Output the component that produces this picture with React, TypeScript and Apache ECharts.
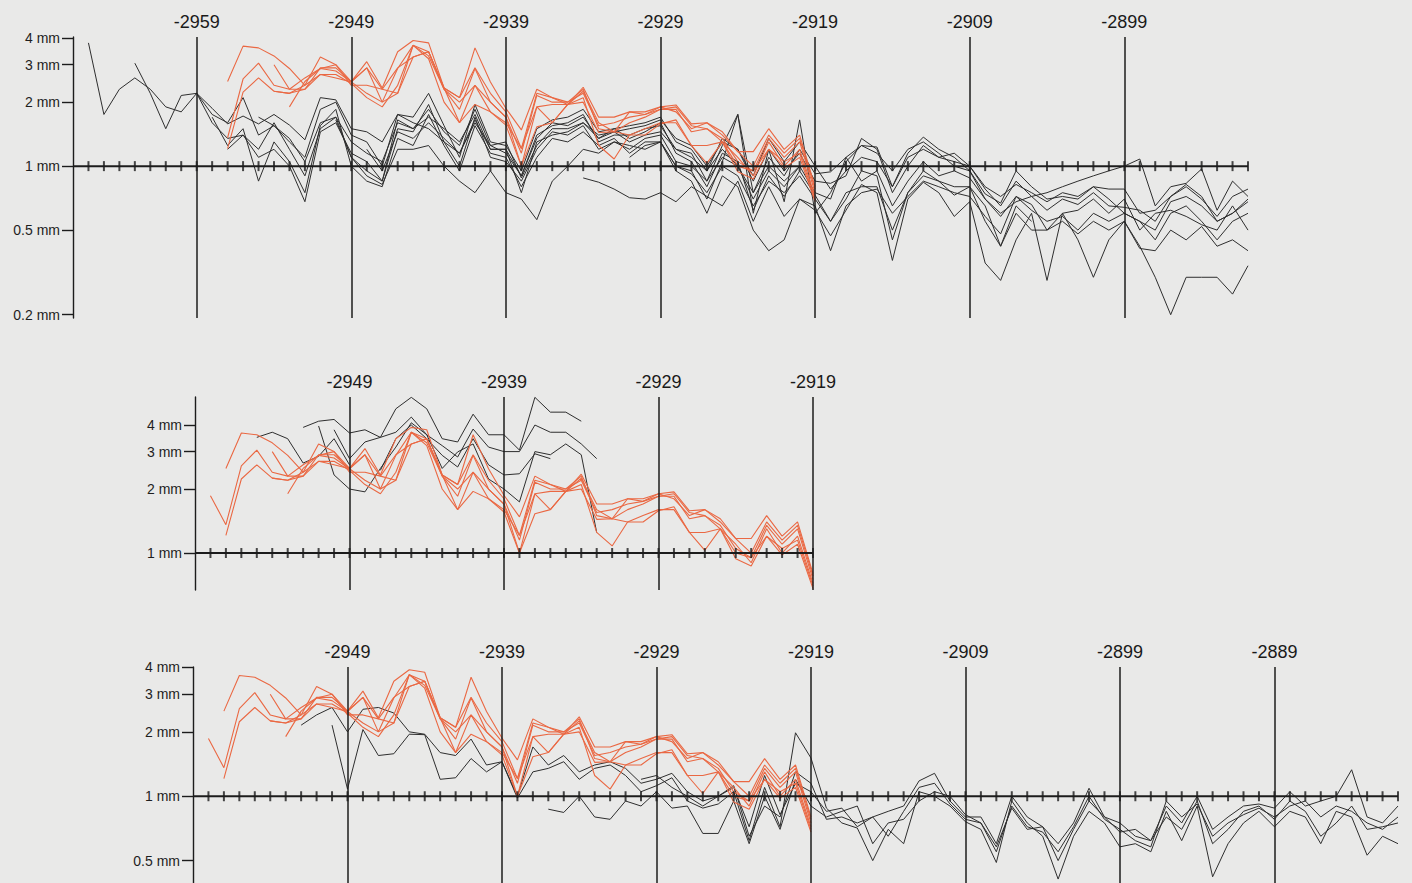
import React, { useEffect, useRef } from "react";
import * as echarts from "echarts";

// ---------- tick labels ----------
const P1_DECADES = [-2959, -2949, -2939, -2929, -2919, -2909, -2899];
const P2_DECADES = [-2949, -2939, -2929, -2919];
const P3_DECADES = [-2949, -2939, -2929, -2919, -2909, -2899, -2889];
const P1_MM_TICKS = [4, 3, 2, 1, 0.5, 0.2];
const P2_MM_TICKS = [4, 3, 2, 1];
const P3_MM_TICKS = [4, 3, 2, 1, 0.5];

// ---------- red series (ring width, mm), shared by the three panels ----------
const RED_STARTS = [-2957, -2958, -2957, -2954, -2954, -2953];
const RED_1 = [
  2.5, 3.67, 3.6, 3.3, 2.88, 2.4, 3.26, 3.0,
  2.5, 3.1, 2.33, 3.45, 3.9, 3.8, 2.33, 2.1, 3.6, 2.49,
  1.87, 1.48, 2.3, 2.1, 1.95, 2.35, 1.7, 1.7, 1.8, 1.8,
  1.9, 1.94, 1.58, 1.6, 1.45, 1.17, 1.17, 1.5, 1.2, 1.4, 0.8,
];
const RED_2 = [
  1.86, 1.36, 2.57, 3.05, 2.4, 2.3, 2.6, 2.88, 2.8,
  2.49, 2.9, 2.0, 2.88, 3.7, 3.45, 2.3, 1.85, 2.88, 2.0,
  1.7, 1.15, 2.15, 2.0, 2.0, 2.2, 1.55, 1.6, 1.7, 1.75,
  1.85, 1.85, 1.45, 1.5, 1.35, 1.05, 0.95, 1.35, 1.1, 1.3, 0.75,
];
const RED_3 = [
  1.21, 2.23, 2.6, 2.25, 2.2, 2.3, 2.7, 2.7,
  2.45, 2.1, 1.9, 2.4, 3.7, 3.2, 2.0, 1.6, 2.4, 1.8,
  1.56, 1.0, 1.9, 1.95, 1.95, 2.1, 1.25, 1.08, 1.4, 1.4,
  1.58, 1.65, 1.25, 1.03, 1.3, 0.94, 0.87, 1.2, 0.98, 1.1, 0.68,
];
const RED_4 = [
  3.0, 2.3, 2.3, 2.9, 2.9,
  2.5, 2.9, 2.3, 2.9, 3.26, 3.45, 2.33, 2.1, 2.9, 2.2,
  1.8, 1.21, 2.2, 2.1, 2.0, 2.3, 1.5, 1.45, 1.8, 1.75,
  1.9, 1.8, 1.5, 1.6, 1.4, 1.17, 1.0, 1.4, 1.15, 1.35, 0.78,
];
const RED_5 = [
  2.25, 2.2, 2.4, 2.7, 2.6,
  2.49, 2.2, 2.0, 2.2, 3.7, 3.3, 2.3, 2.0, 2.4, 2.0,
  1.7, 1.0, 1.53, 1.6, 1.95, 2.25, 1.6, 1.45, 1.6, 1.7,
  1.85, 1.9, 1.55, 1.5, 1.3, 1.1, 0.9, 1.3, 1.0, 1.2, 0.72,
];
const RED_6 = [
  1.9, 2.5, 2.88, 3.0,
  2.4, 2.4, 2.3, 2.2, 3.26, 3.45, 2.33, 1.6, 1.95, 1.8,
  1.6, 1.21, 1.9, 1.6, 1.95, 2.0, 1.44, 1.45, 1.4, 1.5,
  1.6, 1.6, 1.25, 1.25, 1.3, 1.0, 0.95, 1.2, 1.05, 1.15, 0.7,
];
const RED_SERIES = [RED_1, RED_2, RED_3, RED_4, RED_5, RED_6];

// ---------- panel 1 black series ----------
const P1_BLACK_STARTS = [-2966, -2963, -2959, -2958, -2957, -2955, -2950, -2934, -2931, -2948];
const P1_B1 = [
  3.8, 1.75, 2.3, 2.6, 2.3, 1.9, 1.8,
  2.2, 1.87, 1.58, 1.72, 1.58, 1.75, 1.56, 1.33, 2.1, 2.05,
  1.5, 1.45, 1.3, 1.75, 1.6, 1.5, 1.3, 1.15, 1.65, 1.2,
  1.2, 0.9, 1.35, 1.6, 1.55, 1.7, 1.35, 1.45, 1.3, 1.4,
  1.45, 1.2, 1.1, 0.95, 1.2, 1.0, 0.75, 1.0, 0.85, 1.0,
];
const P1_B2 = [
  3.05, 2.2, 1.5, 2.15,
  2.2, 1.75, 1.6, 2.1, 1.4, 1.55, 1.3, 1.1, 1.85, 2.0,
  1.4, 1.3, 1.0, 1.75, 1.7, 2.2, 1.55, 1.1, 1.95, 1.3,
  1.25, 0.95, 1.5, 1.65, 1.7, 1.85, 1.45, 1.5, 1.55, 1.6,
  1.7, 1.3, 1.2, 0.95, 1.35, 1.2, 0.85, 1.2, 0.95, 1.15,
  0.85, 0.83, 0.9, 1.35, 1.2, 0.75, 1.0, 1.25, 1.1, 1.05,
  1.0, 0.78, 0.65, 0.85, 0.72, 0.62, 0.7, 0.66, 0.75, 0.65,
  0.64, 0.62, 0.55, 0.72, 0.8, 0.7, 0.58, 0.72, 0.78,
];
const P1_B3 = [
  2.2, 1.6, 1.35, 1.4, 1.2, 1.6, 1.2, 0.9, 1.5, 1.7,
  1.1, 0.95, 0.85, 1.5, 1.45, 1.95, 1.3, 1.0, 1.7, 1.1,
  1.05, 0.85, 1.2, 1.45, 1.4, 1.55, 1.2, 1.3, 1.2, 1.35,
  1.4, 1.05, 1.0, 0.85, 1.1, 1.0, 0.7, 0.95, 0.8, 1.0,
  0.75, 0.7, 1.1, 0.85, 0.95, 0.65, 0.85, 1.05, 0.9, 0.95,
  0.88, 0.7, 0.58, 0.72, 0.62, 0.55, 0.58, 0.5, 0.6, 0.55,
  0.6, 0.55, 0.45, 0.6, 0.65, 0.55, 0.45, 0.55, 0.6,
];
const P1_B4 = [
  1.7, 1.25, 1.5, 0.85, 1.3, 1.05, 0.75, 1.55, 1.85,
  1.0, 0.85, 0.8, 1.35, 1.25, 1.75, 1.25, 0.95, 1.55, 1.15,
  1.1, 0.8, 1.1, 1.35, 1.3, 1.45, 1.25, 1.35, 1.15, 1.3,
  1.3, 1.0, 0.92, 0.75, 1.0, 0.9, 0.65, 0.85, 0.75, 0.9,
  0.7, 0.55, 0.75, 0.8, 0.8, 0.5, 0.75, 0.95, 0.85, 0.8,
  0.8, 0.65, 0.42, 0.65, 0.55,
];
const P1_B5 = [
  1.2, 1.4, 1.1, 1.2, 1.0, 0.68, 1.45, 1.6,
  1.15, 1.05, 0.85, 1.65, 1.5, 1.85, 1.45, 1.25, 1.85, 1.25,
  1.15, 0.9, 1.4, 1.55, 1.6, 1.75, 1.3, 1.4, 1.4, 1.5,
  1.55, 1.2, 1.15, 0.85, 1.25, 1.75, 0.75, 1.1, 0.9, 1.2,
  0.92, 0.94, 1.1, 1.25, 1.23, 0.8, 1.15, 1.37, 1.2, 1.1,
  0.95, 0.74, 0.67, 0.95, 0.8, 0.7, 0.72, 0.7, 0.8, 0.7,
  0.6, 0.55, 0.5, 0.68, 0.72, 0.65, 0.55, 0.6, 0.7,
];
const P1_B6 = [
  1.7, 1.55, 1.35, 1.05, 1.6, 1.7,
  1.3, 1.15, 1.05, 1.6, 1.5, 1.7, 1.5, 1.3, 1.75, 1.2,
  1.2, 0.75, 1.3, 1.4, 1.45, 1.6, 1.35, 1.5, 1.35, 1.45,
  1.6, 1.15, 1.05, 0.8, 1.15, 1.05, 0.62, 0.9, 0.72, 0.95,
  0.73, 0.55, 0.7, 0.95, 0.9, 0.45, 0.75, 0.9, 0.85, 0.73,
  0.8, 0.55, 0.42, 0.6, 0.5, 0.5, 0.55, 0.48, 0.55, 0.5,
  0.55, 0.41, 0.4, 0.5, 0.45, 0.52, 0.42, 0.45, 0.4,
];
const P1_B7 = [
  1.65,
  1.1, 0.9, 0.82, 1.2, 1.2, 1.25, 1.0, 0.85, 0.75, 0.95,
  0.75, 0.7, 0.56, 0.85, 1.0, 1.2, 1.15, 1.3, 1.25, 1.2,
  1.3, 0.95, 0.85, 0.6, 0.9, 0.8, 0.5, 0.4, 0.45, 0.7,
  0.65, 0.4, 0.65, 0.75, 0.78, 0.6, 0.72, 0.85, 0.8, 0.75,
  0.72, 0.58, 0.48, 0.72, 0.66, 0.5, 0.6, 0.62, 0.7, 0.6,
  0.7, 0.5, 0.6, 0.62, 0.58, 0.53, 0.5, 0.65, 0.5,
];
const P1_B8 = [
  0.88, 0.84, 0.78, 0.71, 0.7,
  0.75, 0.68, 0.8, 0.72, 0.65, 0.85, 0.55, 0.8, 0.58, 0.7,
  0.62, 0.47, 0.62, 0.82, 0.75, 0.36, 0.7, 0.84, 0.75, 0.58,
  0.68, 0.35, 0.29, 0.45, 0.6, 0.29, 0.6, 0.45, 0.3, 0.45,
  0.55, 0.42, 0.3, 0.2, 0.3, 0.3, 0.3, 0.25, 0.34,
];
const P1_B9 = [
  1.1, 1.25,
  1.3, 1.0, 0.95, 0.7, 1.05, 1.75, 0.6, 1.2, 0.68, 1.65,
  0.6, 0.75, 1.05, 1.25, 1.15, 0.95, 1.2, 1.3, 1.15, 1.0,
  0.95, 0.7, 0.6, 0.68, 0.72, 0.75, 0.8, 0.85, 0.9, 0.95,
  1.0, 1.08, 0.65, 0.8, 0.83, 0.97, 0.62, 0.85, 0.72,
];
const P1_B10 = [
  1.2, 0.95, 1.45, 1.35, 1.6, 1.35, 1.15, 1.6, 1.25,
  1.3, 0.88, 1.25, 1.5, 1.5, 1.6, 1.4, 1.45, 1.5, 1.55,
  1.65, 1.35, 1.25, 1.0, 1.3, 1.2, 0.9, 1.35, 1.05, 1.3,
  1.0, 0.78, 0.95, 1.1, 1.05, 0.8, 1.1, 1.2, 1.1, 1.15,
  1.0, 0.8, 0.72, 0.82, 0.75, 0.68, 0.75, 0.72, 0.8, 0.78,
  0.78, 0.6, 0.62, 0.72, 0.82, 0.72, 0.55, 0.6, 0.68,
];
const P1_BLACK = [P1_B1, P1_B2, P1_B3, P1_B4, P1_B5, P1_B6, P1_B7, P1_B8, P1_B9, P1_B10];

// ---------- panel 2 black series ----------
const P2_BLACK_STARTS = [-2955, -2952, -2951, -2950, -2947];
const P2_K1 = [3.5, 3.7, 3.45, 2.65, 2.85, 3.45, 2.6];
const P2_K2 = [3.9, 4.17, 4.25, 3.67, 3.8, 3.5, 4.77, 5.4, 4.77, 3.45, 3.33, 4.5, 3.6, 3.6, 3.05, 5.4, 4.6, 4.6, 4.17];
const P2_K3 = [3.96, 2.33, 2.0, 1.94, 2.5, 3.15, 4.1, 3.6, 2.5, 2.99, 3.26, 2.23, 2.0, 1.74, 3.0, 2.9, 3.26, 2.9, 1.25];
const P2_K4 = [3.8, 2.78, 3.33, 3.5, 3.7, 4.36, 3.6, 3.2, 2.83, 3.83, 3.15, 3.0, 3.0, 4.0, 3.7, 3.7, 3.26, 2.78];
const P2_K5 = [2.45, 3.45, 4.0, 3.45, 2.88, 2.54, 3.45, 2.6, 2.33, 2.36, 2.93, 2.78];
const P2_BLACK = [P2_K1, P2_K2, P2_K3, P2_K4, P2_K5];

// ---------- panel 3 black series ----------
const P3_BLACK_STARTS = [-2952, -2950, -2936, -2930];
const P3_C1 = [
  2.15, 2.4, 2.6,
  2.0, 2.55, 2.6, 2.45, 2.0, 1.95, 1.6, 1.55, 1.85, 1.4,
  1.45, 1.0, 1.7, 1.4, 1.55, 1.3, 1.4, 1.45, 1.35, 1.15,
  1.2, 1.28, 1.05, 0.95, 1.0, 1.1, 0.72, 1.25, 0.82, 1.15,
  1.05, 0.85, 0.88, 0.72, 0.8, 0.85, 0.9, 1.18, 1.28, 0.95,
  0.8, 0.8, 0.6, 1.0, 0.8, 0.72, 0.6, 0.75, 1.09, 0.8,
  0.75, 0.65, 0.62, 0.9, 0.75, 1.0, 0.7, 0.8, 0.9, 0.92,
  0.88, 1.05, 0.9, 0.95, 1.0, 1.33, 0.8, 0.75, 0.9,
];
const P3_C2 = [
  2.15,
  1.08, 2.05, 1.55, 1.58, 1.95, 1.94, 1.2, 1.22, 1.5, 1.3,
  1.45, 0.98, 1.3, 1.35, 1.45, 1.2, 1.35, 1.4, 1.25, 1.05,
  1.12, 1.22, 0.95, 0.88, 0.92, 1.05, 0.62, 1.1, 0.72, 1.98,
  1.51, 0.88, 0.75, 0.71, 0.5, 0.7, 0.6, 1.05, 1.0, 0.9,
  0.76, 0.7, 0.49, 0.95, 0.75, 0.65, 0.41, 0.65, 0.85, 0.75,
  0.58, 0.6, 0.55, 0.85, 0.62, 0.9, 0.42, 0.6, 0.75, 0.85,
  0.72, 0.85, 0.8, 0.6, 0.85, 0.8, 0.53, 0.65, 0.6,
];
const P3_C3 = [
  0.87, 0.84, 1.0, 0.8, 0.78, 0.95, 0.9,
  1.05, 0.88, 0.9, 0.67, 0.67, 0.95, 0.6, 1.0, 0.7, 1.2,
  0.9, 0.8, 0.85, 0.9, 0.6, 0.75, 0.78, 0.95, 1.05, 1.0,
  0.82, 0.75, 0.58, 0.88, 0.7, 0.72, 0.5, 0.7, 0.95, 0.8,
  0.68, 0.7, 0.62, 0.8, 0.7, 0.95, 0.6, 0.7, 0.85, 0.9,
  0.78, 0.95, 0.85, 0.65, 0.75, 0.9, 0.7, 0.72, 0.75,
];
const P3_C4 = [
  1.2,
  1.25, 1.1, 1.0, 0.9, 1.0, 1.12, 0.65, 0.9, 0.8, 1.3,
  1.15, 0.78, 0.8, 0.75, 0.8, 0.65, 0.85, 1.1, 1.15, 0.92,
  0.78, 0.75, 0.55, 0.9, 0.72, 0.68, 0.55, 0.72, 1.0, 0.78,
  0.7, 0.62, 0.58, 0.95, 0.8, 0.92, 0.65, 0.75, 0.82, 0.88,
  0.8, 0.9, 0.95, 0.8, 0.9, 0.85, 0.75, 0.7, 0.8,
];
const P3_BLACK = [P3_C1, P3_C2, P3_C3, P3_C4];

// ---------- styling / layout ----------
const INK = "#1c1c1c";
const BLACK_LINE = "#2e2e2e";
const RED_LINE = "#ea6843";
const PAPER = "#e9e9e8";
const FONT = "'Liberation Sans', Arial, Helvetica, sans-serif";

type Panel = {
  left: number; top: number; width: number; height: number;
  xMin: number; xMax: number; yMin: number; yMax: number;
  mmTicks: number[]; decades: number[];
  black: number[][]; blackStarts: number[]; redFrom: number;
};

const PANELS: Panel[] = [
  { left: 73, top: 37, width: 1175, height: 281, xMin: -2967, xMax: -2891, yMin: 0.193, yMax: 4.05,
    mmTicks: P1_MM_TICKS, decades: P1_DECADES, black: P1_BLACK, blackStarts: P1_BLACK_STARTS, redFrom: -2957 },
  { left: 195, top: 397, width: 618, height: 193, xMin: -2959, xMax: -2919, yMin: 0.67, yMax: 5.42,
    mmTicks: P2_MM_TICKS, decades: P2_DECADES, black: P2_BLACK, blackStarts: P2_BLACK_STARTS, redFrom: -2958 },
  { left: 193, top: 667, width: 1205, height: 216, xMin: -2959, xMax: -2881, yMin: 0.393, yMax: 4.02,
    mmTicks: P3_MM_TICKS, decades: P3_DECADES, black: P3_BLACK, blackStarts: P3_BLACK_STARTS, redFrom: -2958 },
];

const toPts = (start: number, vals: number[], from: number) =>
  vals.map((v, i) => [start + i, Math.log10(v)]).filter((p) => p[0] >= from);

const mmLabel = (v: number) => {
  const mm = Math.pow(10, v);
  return (mm >= 1 ? String(Math.round(mm)) : mm.toFixed(1)) + " mm";
};

function buildOption() {
  const grid: any[] = [];
  const xAxis: any[] = [];
  const yAxis: any[] = [];
  const series: any[] = [];

  PANELS.forEach((p, i) => {
    grid.push({ left: p.left, top: p.top, width: p.width, height: p.height, outerBoundsMode: "none" });
    xAxis.push({ type: "value", gridIndex: i, min: p.xMin, max: p.xMax, show: false });
    const tv = p.mmTicks.map((m) => Math.log10(m));
    yAxis.push({
      type: "value", gridIndex: i, min: Math.log10(p.yMin), max: Math.log10(p.yMax),
      axisLine: { show: true, onZero: false, lineStyle: { color: INK, width: 1.4 } },
      axisTick: { show: true, length: 11, customValues: tv, lineStyle: { color: INK, width: 1.4 } },
      axisLabel: {
        show: true, customValues: tv, formatter: mmLabel, margin: 13, fontSize: 14,
        color: "#1e1e1e", fontFamily: FONT, showMinLabel: true, showMaxLabel: true,
      },
      splitLine: { show: false },
    });

    p.black.forEach((vals, k) => {
      series.push({
        type: "line", xAxisIndex: i, yAxisIndex: i, symbol: "none", silent: true, z: 2,
        lineStyle: { color: BLACK_LINE, width: 1 },
        data: toPts(p.blackStarts[k], vals, p.xMin),
      });
    });
    RED_SERIES.forEach((vals, k) => {
      series.push({
        type: "line", xAxisIndex: i, yAxisIndex: i, symbol: "none", silent: true, z: 3,
        lineStyle: { color: RED_LINE, width: 1.1 },
        data: toPts(RED_STARTS[k], vals, p.redFrom),
      });
    });

    // 1 mm axis line with decade markers
    series.push({
      type: "line", xAxisIndex: i, yAxisIndex: i, symbol: "none", silent: true, z: 4,
      lineStyle: { color: INK, width: 2 },
      data: [[p.xMin, 0], [p.xMax, 0]],
      markLine: {
        silent: true, symbol: ["none", "none"], animation: false,
        lineStyle: { color: INK, width: 1.5, type: "solid" },
        label: { show: true, position: "end", formatter: "{b}", fontSize: 18, color: "#1a1a1a", fontFamily: FONT, distance: 6 },
        emphasis: { disabled: true },
        data: p.decades.map((y) => ({ xAxis: y, name: String(y) })),
      },
    });
    // yearly ticks
    const years: number[][] = [];
    for (let y = p.xMin + 1; y <= p.xMax; y++) years.push([y, 0]);
    series.push({
      type: "scatter", xAxisIndex: i, yAxisIndex: i, silent: true, z: 5,
      symbol: "rect", symbolSize: [2, 10],
      itemStyle: { color: INK },
      data: years,
    });
  });

  return { animation: false, backgroundColor: PAPER, grid, xAxis, yAxis, series };
}

export default function App() {
  const ref = useRef<HTMLDivElement>(null);
  useEffect(() => {
    document.body.style.margin = "0";
    document.body.style.background = PAPER;
    if (!ref.current) return;
    const chart = echarts.init(ref.current, undefined, { renderer: "svg" });
    chart.setOption(buildOption());
    return () => chart.dispose();
  }, []);
  return (
    <div
      ref={ref}
      style={{ position: "fixed", left: 0, top: 0, width: 1412, height: 883, background: PAPER }}
    />
  );
}
